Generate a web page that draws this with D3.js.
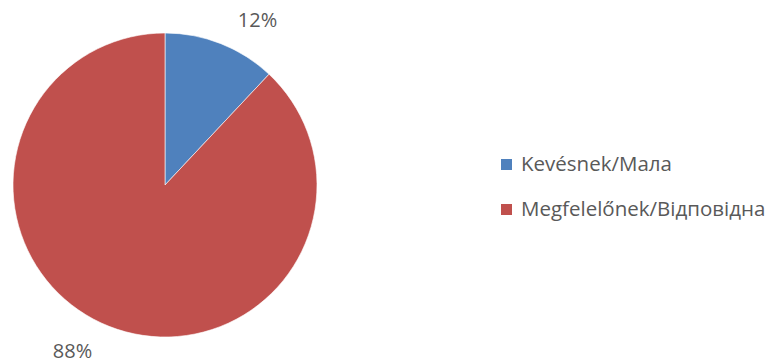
<!DOCTYPE html>
<html>
<head>
<meta charset="utf-8">
<script src="https://cdn.jsdelivr.net/npm/d3@7"></script>
<style>
  body { margin: 0; background: #fff; }
  text { font-family: "Open Sans", "Liberation Sans", sans-serif; fill: #595959; }
</style>
</head>
<body>
<div class="chart"></div>
<script>
const categories = ["Kevésnek/Мала", "Megfelelőnek/Відповідна"];
const values = [12, 88];
const labels = ["12%", "88%"];
const colors = ["#4F81BD", "#C0504D"];

function createPie() {
    const width = 779, height = 363;
    const cx = 165, cy = 185, r = 152;

    const svg = d3.select("div.chart").append("svg")
        .attr("width", width)
        .attr("height", height);

    const data = categories.map((c, i) => ({ category: c, value: values[i], label: labels[i], color: colors[i] }));

    const pie = d3.pie().sort(null).value(d => d.value);
    const arc = d3.arc().innerRadius(0).outerRadius(r);
    const arcs = pie(data);

    const g = svg.append("g").attr("transform", `translate(${cx},${cy})`);

    // Skivor
    g.selectAll("path")
        .data(arcs)
        .enter().append("path")
        .attr("d", arc)
        .attr("fill", d => d.data.color)
        .attr("stroke", "#fff")
        .attr("stroke-width", 0.6);

    // Procentetiketter utanför
    const labelR = r + 26;
    g.selectAll(".pct")
        .data(arcs)
        .enter().append("text")
        .attr("class", "pct")
        .attr("x", d => {
            const a = (d.startAngle + d.endAngle) / 2;
            return labelR * Math.sin(a) + Math.sign(Math.sin(a)) * 27;
        })
        .attr("y", d => {
            const a = (d.startAngle + d.endAngle) / 2;
            return -labelR * Math.cos(a);
        })
        .attr("dy", "0.35em")
        .attr("text-anchor", "middle")
        .style("font-size", "20px")
        .text(d => d.data.label);

    // Legend
    const legend = svg.append("g").attr("transform", "translate(501,159)");
    const item = legend.selectAll("g")
        .data(data)
        .enter().append("g")
        .attr("transform", (d, i) => `translate(0,${i * 45})`);
    item.append("rect")
        .attr("width", 11)
        .attr("height", 11)
        .attr("fill", d => d.color);
    item.append("text")
        .attr("x", 20)
        .attr("y", 12)
        .style("font-size", "20.5px")
        .text(d => d.category);
}

createPie();
</script>
</body>
</html>
